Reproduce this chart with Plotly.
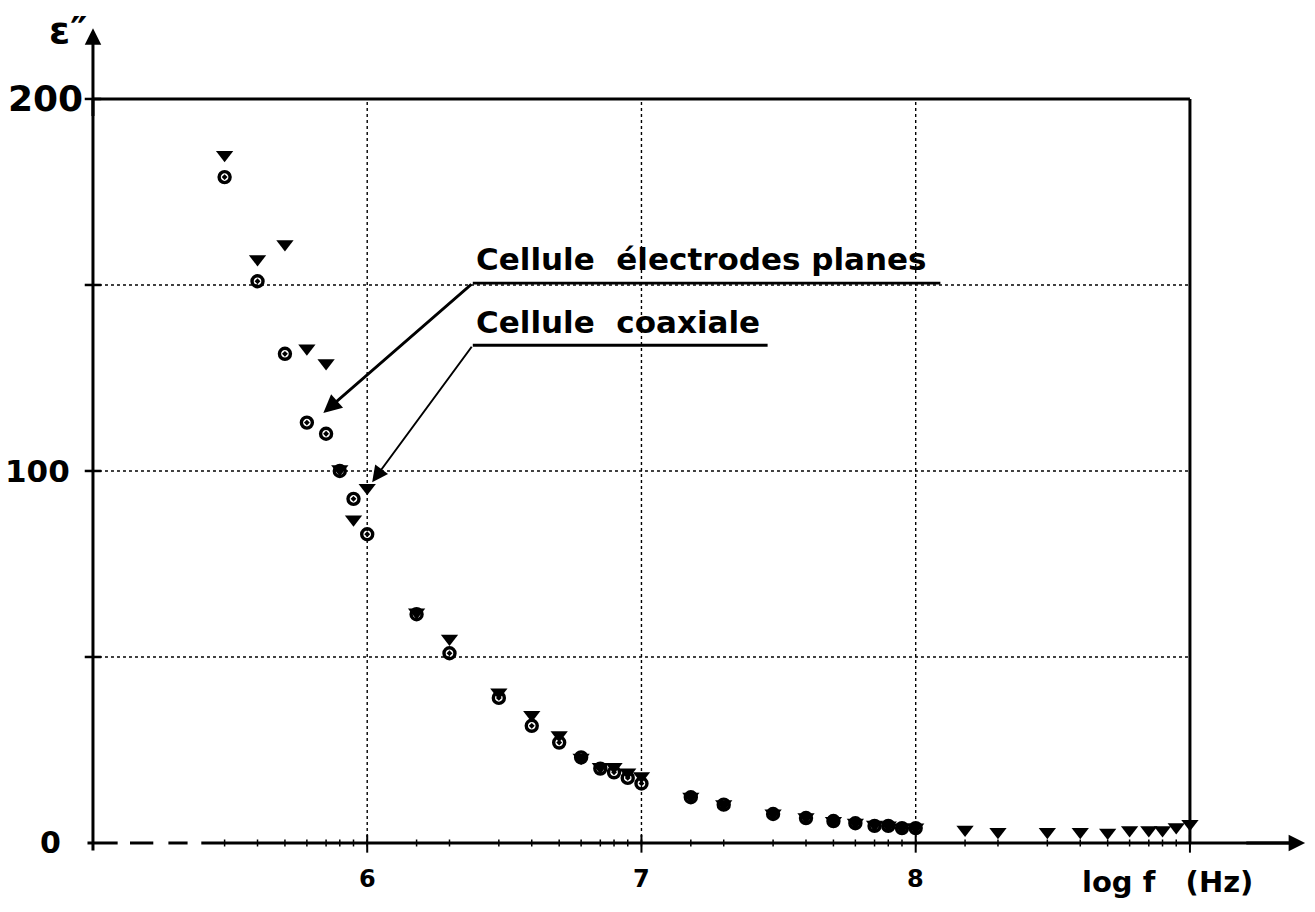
import plotly.graph_objects as go

# log f (Hz) and loss factor eps'' for the two measuring cells
logf_coax = [5.48, 5.60, 5.70, 5.78, 5.85, 5.90, 5.95, 6.00, 6.18, 6.30,
             6.48, 6.60, 6.70, 6.78, 6.85, 6.90, 6.95, 7.00, 7.18, 7.30,
             7.48, 7.60, 7.70, 7.78, 7.85, 7.90, 7.95, 8.00, 8.18, 8.30,
             8.48, 8.60, 8.70, 8.78, 8.85, 8.90, 8.95, 9.00]
eps_coax = [185, 157, 161, 133, 129, 100.5, 87, 95.5, 62, 55,
            40.5, 34.5, 29, 23, 20.5, 20.5, 19, 18, 12.5, 10.5,
            8, 7, 6, 5.5, 5, 4.8, 4.2, 4.2, 3.6, 3.0,
            3.0, 3.0, 2.8, 3.5, 3.5, 3.5, 4.3, 5.2]

logf_plan = [5.48, 5.60, 5.70, 5.78, 5.85, 5.90, 5.95, 6.00, 6.18, 6.30,
             6.48, 6.60, 6.70, 6.78, 6.85, 6.90, 6.95, 7.00, 7.18, 7.30,
             7.48, 7.60, 7.70, 7.78, 7.85, 7.90, 7.95, 8.00]
eps_plan = [179, 151, 131.5, 113, 110, 100, 92.5, 83, 61.5, 51,
            39, 31.5, 27, 23, 20, 19, 17.5, 16, 12.3, 10.3,
            7.8, 6.7, 5.9, 5.3, 4.6, 4.6, 4.0, 4.0]

x_ticks = [6, 7, 8]
x_tick_labels = ["6", "7", "8"]
y_ticks = [0, 100, 200]
y_tick_labels = ["0", "100", "200"]
x_grid = [6, 7, 8]
y_grid = [50, 100, 150]

X0, X1 = 5, 9          # frame in x
Y0, Y1 = 0, 200        # frame in y
FONT = "DejaVu Sans"
INK = "black"

fig = go.Figure()

shapes = []
# dotted grid inside the frame
for gx in x_grid:
    shapes.append(dict(type="line", xref="x", yref="y", x0=gx, x1=gx, y0=Y0, y1=Y1,
                       line=dict(color=INK, width=1.4, dash="dot"), layer="below"))
for gy in y_grid:
    shapes.append(dict(type="line", xref="x", yref="y", x0=X0, x1=X1, y0=gy, y1=gy,
                       line=dict(color=INK, width=1.4, dash="dot"), layer="below"))
# frame: top and right
shapes.append(dict(type="line", xref="x", yref="y", x0=X0, x1=X1, y0=Y1, y1=Y1,
                   line=dict(color=INK, width=3)))
shapes.append(dict(type="line", xref="x", yref="y", x0=X1, x1=X1, y0=Y0, y1=Y1,
                   line=dict(color=INK, width=3)))
# vertical axis
shapes.append(dict(type="line", xref="x", yref="y", x0=X0, x1=X0, y0=-2, y1=Y1,
                   line=dict(color=INK, width=3)))
# horizontal axis: dashed start, then solid
for a, b in [(4.98, 5.09), (5.135, 5.22), (5.275, 5.345)]:
    shapes.append(dict(type="line", xref="x", yref="y", x0=a, x1=b, y0=0, y1=0,
                       line=dict(color=INK, width=3)))
shapes.append(dict(type="line", xref="x", yref="y", x0=5.395, x1=9.38, y0=0, y1=0,
                   line=dict(color=INK, width=3)))
# cross ticks on the axes
for tx in [6, 7, 8, 9]:
    shapes.append(dict(type="line", xref="x", yref="y", x0=tx, x1=tx, y0=-2.6, y1=2.2,
                       line=dict(color=INK, width=2)))
for ty in [50, 100, 150, 200]:
    shapes.append(dict(type="line", xref="x", yref="y", x0=4.97, x1=5.03, y0=ty, y1=ty,
                       line=dict(color=INK, width=2.5)))
# underlines of the two labels
shapes.append(dict(type="line", xref="x", yref="y", x0=6.385, x1=8.09, y0=150.5, y1=150.5,
                   line=dict(color=INK, width=2.8)))
shapes.append(dict(type="line", xref="x", yref="y", x0=6.385, x1=7.46, y0=133.8, y1=133.8,
                   line=dict(color=INK, width=2.8)))

# small marks on the frequency axis at every measuring frequency
fig.add_trace(go.Scatter(
    x=logf_coax, y=[0] * len(logf_coax), mode="markers", hoverinfo="skip",
    marker=dict(symbol="line-ns", size=5, color=INK, line=dict(color=INK, width=1.5)),
))
# coaxial cell
fig.add_trace(go.Scatter(
    x=logf_coax, y=eps_coax, mode="markers", name="Cellule coaxiale",
    marker=dict(symbol="triangle-down", size=15, color=INK, line=dict(width=0)),
))
# plane electrode cell
fig.add_trace(go.Scatter(
    x=logf_plan, y=eps_plan, mode="markers", name="Cellule électrodes planes",
    marker=dict(symbol="circle-open-dot", size=11, color=INK,
                line=dict(color=INK, width=3.4)),
))

ann = []
# axis arrows
ann.append(dict(x=5.0, y=219, ax=5.0, ay=195, xref="x", yref="y", axref="x", ayref="y",
                text="", showarrow=True, arrowhead=2, arrowsize=1.1, arrowwidth=3,
                arrowcolor=INK))
ann.append(dict(x=9.42, y=0, ax=9.2, ay=0, xref="x", yref="y", axref="x", ayref="y",
                text="", showarrow=True, arrowhead=2, arrowsize=1.1, arrowwidth=3,
                arrowcolor=INK))
# leader arrows from the labels to the points
ann.append(dict(x=5.84, y=115.6, ax=6.385, ay=150.5, xref="x", yref="y", axref="x",
                ayref="y", text="", showarrow=True, arrowhead=2, arrowsize=1.3,
                arrowwidth=2.8, arrowcolor=INK))
ann.append(dict(x=6.018, y=97, ax=6.385, ay=133.8, xref="x", yref="y", axref="x",
                ayref="y", text="", showarrow=True, arrowhead=2, arrowsize=1.6,
                arrowwidth=2.0, arrowcolor=INK))
# label texts
ann.append(dict(x=6.39, y=157.0, xref="x", yref="y", text="Cellule  électrodes planes",
                showarrow=False, xanchor="left", yanchor="middle",
                font=dict(family=FONT, size=31, color=INK, weight="bold")))
ann.append(dict(x=6.39, y=140.0, xref="x", yref="y", text="Cellule  coaxiale",
                showarrow=False, xanchor="left", yanchor="middle",
                font=dict(family=FONT, size=31, color=INK, weight="bold")))
# tick labels
for tx, lab in zip(x_ticks, x_tick_labels):
    ann.append(dict(x=tx, y=-9.6, xref="x", yref="y", text=lab, showarrow=False,
                    xanchor="center", yanchor="middle",
                    font=dict(family=FONT, size=24, color=INK, weight="bold")))
label_right = {0: 4.89, 100: 4.925, 200: 4.972}
label_size = {0: 30, 100: 31, 200: 36}
for ty, lab in zip(y_ticks, y_tick_labels):
    ann.append(dict(x=label_right[ty], y=ty, xref="x", yref="y", text=lab,
                    showarrow=False, xanchor="right", yanchor="middle",
                    font=dict(family=FONT, size=label_size[ty], color=INK,
                              weight="bold")))
# axis titles
ann.append(dict(x=4.91, y=218.5, xref="x", yref="y", text="ε\u2033", showarrow=False,
                xanchor="center", yanchor="middle",
                font=dict(family=FONT, size=38, color=INK, weight="bold")))
ann.append(dict(x=8.6, y=-10.5, xref="x", yref="y", text="log f&nbsp;&nbsp;&nbsp;(Hz)",
                showarrow=False, xanchor="left", yanchor="middle",
                font=dict(family=FONT, size=29, color=INK, weight="bold")))

fig.update_layout(
    width=1315, height=912,
    margin=dict(l=0, r=0, t=0, b=0),
    paper_bgcolor="white", plot_bgcolor="white",
    showlegend=False,
    xaxis=dict(range=[4.661, 9.456], visible=False, fixedrange=True),
    yaxis=dict(range=[-18.55, 226.6], visible=False, fixedrange=True),
    shapes=shapes,
    annotations=ann,
)

fig.write_html("out.html")
